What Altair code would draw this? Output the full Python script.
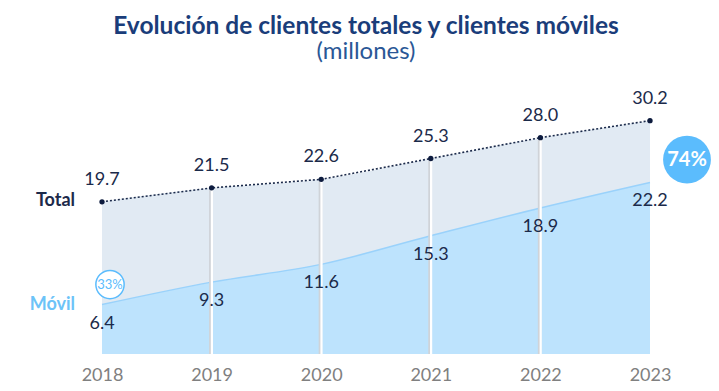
import altair as alt
import pandas as pd

years = [2018, 2019, 2020, 2021, 2022, 2023]
total = [19.7, 21.5, 22.6, 25.3, 28.0, 30.2]
movil = [6.4, 9.3, 11.6, 15.3, 18.9, 22.2]
pct_labels = ["33%", "74%"]
series_names = ["Total", "Móvil"]

df = pd.DataFrame({"year": years, "total": total, "movil": movil})
df["total_lbl"] = [f"{v:.1f}" for v in total]
df["movil_lbl"] = [f"{v:.1f}" for v in movil]

first = df.iloc[[0]].copy()
first["name_total"] = series_names[0]
first["name_movil"] = series_names[1]
first["pct"] = pct_labels[0]
last = df.iloc[[-1]].copy()
last["pct"] = pct_labels[1]
inner = df.iloc[1:-1]

FONT = "Lato"
NAVY = "#1b2a4a"
LIGHTBLUE = "#5bbcfd"

x = alt.X("year:Q", scale=alt.Scale(domain=[2018, 2023], nice=False, zero=False),
          axis=alt.Axis(values=years, format="d", title=None, grid=False, domain=False,
                        ticks=False, labelFont=FONT, labelFontSize=18, labelColor="#808080",
                        labelPadding=12, labelFlush=False, labelBound=False))
yscale = alt.Scale(domain=[0, 33], nice=False)

base = alt.Chart(df)

area_total = base.mark_area(color="#e1eaf3", opacity=1, interpolate="monotone").encode(
    x=x, y=alt.Y("total:Q", scale=yscale, axis=None))
area_movil = base.mark_area(color="#bde3fd", opacity=1, interpolate="monotone",
                            line={"color": "#9ad2fb", "strokeWidth": 1.5}).encode(
    x=x, y=alt.Y("movil:Q", scale=yscale, axis=None))

rule_shadow = alt.Chart(inner).mark_rule(color="#cfd3d8", strokeWidth=3.5, xOffset=-0.8).encode(
    x=x, y=alt.Y("total:Q", scale=yscale), y2=alt.datum(0))
rule_white = alt.Chart(inner).mark_rule(color="#ffffff", strokeWidth=2.2, xOffset=0.3).encode(
    x=x, y=alt.Y("total:Q", scale=yscale), y2=alt.datum(0))

line_total = base.mark_line(color=NAVY, strokeDash=[2, 2], strokeWidth=1.6).encode(
    x=x, y=alt.Y("total:Q", scale=yscale))
pts_total = base.mark_point(filled=True, color="#0d1b3e", size=28, opacity=1).encode(
    x=x, y=alt.Y("total:Q", scale=yscale))

txt_total = base.mark_text(font=FONT, fontSize=18, color=NAVY, dy=-22).encode(
    x=x, y=alt.Y("total:Q", scale=yscale), text="total_lbl:N")
txt_movil = base.mark_text(font=FONT, fontSize=18, color=NAVY, dy=19).encode(
    x=x, y=alt.Y("movil:Q", scale=yscale), text="movil_lbl:N")

name_total = alt.Chart(first).mark_text(font=FONT, fontSize=18, fontWeight="bold", color=NAVY,
                                         align="right", dx=-27, dy=-1).encode(
    x=x, y=alt.Y("total:Q", scale=yscale), text="name_total:N")
name_movil = alt.Chart(first).mark_text(font=FONT, fontSize=18, fontWeight="bold", color="#6cc3f8",
                                         align="right", dx=-27, dy=0).encode(
    x=x, y=alt.Y("movil:Q", scale=yscale), text="name_movil:N")

circ33 = alt.Chart(first).mark_point(shape="circle", size=800, fill="white", filled=False,
                                      stroke=LIGHTBLUE, strokeWidth=1.5, opacity=1,
                                      xOffset=8, yOffset=-20).encode(
    x=x, y=alt.Y("movil:Q", scale=yscale))
circ33_fill = alt.Chart(first).mark_point(shape="circle", size=780, filled=True, color="white",
                                           opacity=1, xOffset=8, yOffset=-20).encode(
    x=x, y=alt.Y("movil:Q", scale=yscale))
txt33 = alt.Chart(first).mark_text(font=FONT, fontSize=13, color=LIGHTBLUE,
                                    xOffset=8, yOffset=-20).encode(
    x=x, y=alt.Y("movil:Q", scale=yscale), text="pct:N")

circ74 = alt.Chart(last).mark_point(shape="circle", size=2290, filled=True, color=LIGHTBLUE,
                                     opacity=1, xOffset=37, yOffset=39).encode(
    x=x, y=alt.Y("total:Q", scale=yscale))
txt74 = alt.Chart(last).mark_text(font=FONT, fontSize=20, fontWeight="bold", color="white",
                                   xOffset=37, yOffset=39).encode(
    x=x, y=alt.Y("total:Q", scale=yscale), text="pct:N")

chart = alt.layer(
    area_total, area_movil, rule_shadow, rule_white, line_total, pts_total,
    txt_total, txt_movil, name_total, name_movil, circ33_fill, circ33, txt33, circ74, txt74
).properties(
    width=548, height=255,
    title=alt.Title("Evolución de clientes totales y clientes móviles", subtitle="(millones)",
                    font=FONT, fontSize=24.5, fontWeight="bold", color="#1a3d7a",
                    subtitleFont=FONT, subtitleFontSize=24, subtitleColor="#2a5796",
                    anchor="middle", offset=25, dx=-10, subtitlePadding=0),
    autosize=alt.AutoSizeParams(type="none"),
    padding={"left": 94, "top": 91, "right": 61, "bottom": 29},
).configure_view(stroke=None)

chart.save("out.html", embed_options={"renderer": "svg", "actions": False})
